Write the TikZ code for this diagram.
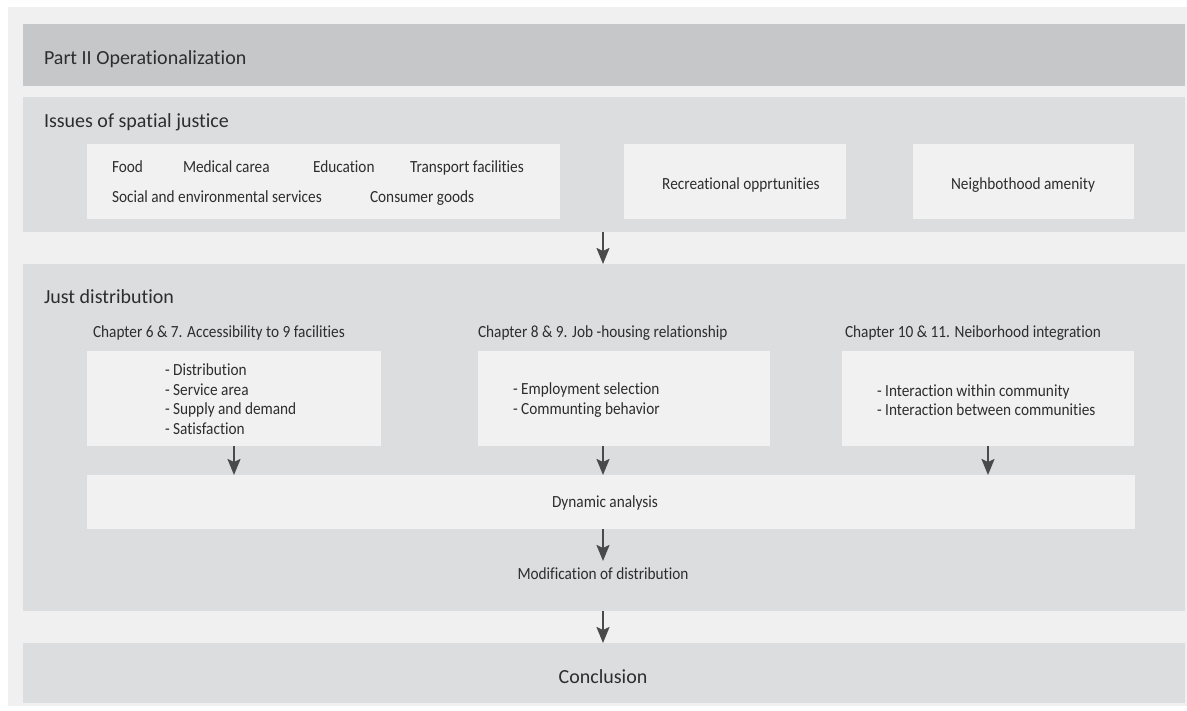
\documentclass[tikz,border=0pt]{standalone}
\usepackage{fontspec}
\setmainfont{Carlito}[Ligatures=NoCommon]
\newfontfamily\condfont{Carlito}[FakeStretch=0.9, Ligatures=NoCommon]
\usetikzlibrary{arrows.meta}

\definecolor{pagebg}{RGB}{240,240,240}
\definecolor{darkband}{RGB}{198,199,201}
\definecolor{bandc}{RGB}{220,221,223}
\definecolor{innerc}{RGB}{241,241,241}
\definecolor{textc}{RGB}{45,45,45}
\definecolor{arrowc}{RGB}{74,74,74}

\begin{document}
\begin{tikzpicture}[x=1pt,y=-1pt,
  every node/.style={text=textc, inner sep=0pt, outer sep=0pt},
  band/.style={fill=bandc, anchor=north west, minimum width=1162pt},
  headband/.style={band, fill=darkband},
  inbox/.style={fill=innerc, anchor=north west},
  title/.style={font=\fontsize{20}{24}\selectfont, anchor=base west},
  lbl/.style={font=\condfont\fontsize{17}{19.6}\selectfont, anchor=base west},
  clbl/.style={lbl, anchor=base},
  lines/.style={font=\condfont\fontsize{17}{19.6}\selectfont, align=left, anchor=west},
  arr/.style={draw=arrowc, line width=2pt, -{Stealth[length=16pt,width=13pt,inset=3pt]}}
]
\useasboundingbox (0,0) rectangle (1187,711);
\fill[white] (0,0) rectangle (1187,711);
\fill[pagebg] (8,7) rectangle (1187,706);

% horizontal bands
\node[headband, minimum height=62pt] (partii) at (23,24) {};
\node[band, minimum height=135pt] (issues) at (23,97) {};
\node[band, minimum height=347pt] (just) at (23,264) {};
\node[band, minimum height=60pt] (concl) at (23,643) {};

% band titles
\node[title] (tpart) at (44,65) {Part II Operationalization};
\node[title] (tissues) at (44,128) {Issues of spatial justice};
\node[title] (tjust) at (44,304) {Just distribution};
\node[title, anchor=base] (tconcl) at (603,683) {Conclusion};

% issues of spatial justice
\node[inbox, minimum width=473pt, minimum height=75pt] (ib1) at (87,144) {};
\node[inbox, minimum width=222pt, minimum height=75pt] (ib2) at (624,144) {};
\node[inbox, minimum width=221pt, minimum height=75pt] (ib3) at (913,144) {};

\node[lbl] (food) at (112,173) {Food};
\node[lbl] (medical) at (183,173) {Medical carea};
\node[lbl] (education) at (313,173) {Education};
\node[lbl] (transport) at (410,173) {Transport facilities};
\node[lbl] (social) at (112,203) {Social and environmental services};
\node[lbl] (consumer) at (370,203) {Consumer goods};
\node[clbl] (recreation) at (741,190) {Recreational opprtunities};
\node[clbl] (amenity) at (1023,190) {Neighbothood amenity};

% chapters
\node[lbl] (chA) at (93,338) {Chapter 6 \& 7. Accessibility to 9 facilities};
\node[lbl] (chB) at (478,338) {Chapter 8 \& 9. Job -housing relationship};
\node[lbl] (chC) at (845,338) {Chapter 10 \& 11. Neiborhood integration};

\node[inbox, minimum width=294pt, minimum height=95pt] (boxA) at (87,351) {};
\node[inbox, minimum width=292pt, minimum height=95pt] (boxB) at (478,351) {};
\node[inbox, minimum width=292pt, minimum height=95pt] (boxC) at (842,351) {};

\node[lines] (txtA) at (165,399) {- Distribution\\- Service area\\- Supply and demand\\- Satisfaction};
\node[lines] (txtB) at (513,400) {- Employment selection\\- Communting behavior};
\node[lines] (txtC) at (877,400) {- Interaction within community\\- Interaction between communities};

\node[inbox, minimum width=1048pt, minimum height=54pt] (dyn) at (87,475) {};
\node[clbl] (tdyn) at (605,507) {Dynamic analysis};
\node[clbl] (mod) at (603,579) {Modification of distribution};
\coordinate (modtop) at (603,561);

% connectors
\draw[arr] (issues.south -| mod) -- (just.north -| mod);
\draw[arr] (boxA.south) -- (boxA.south |- dyn.north);
\draw[arr] (boxB.south -| mod) -- (dyn.north -| mod);
\draw[arr] (boxC.south) -- (boxC.south |- dyn.north);
\draw[arr] (dyn.south -| mod) -- (modtop);
\draw[arr] (just.south -| mod) -- (concl.north -| mod);
\end{tikzpicture}
\end{document}
